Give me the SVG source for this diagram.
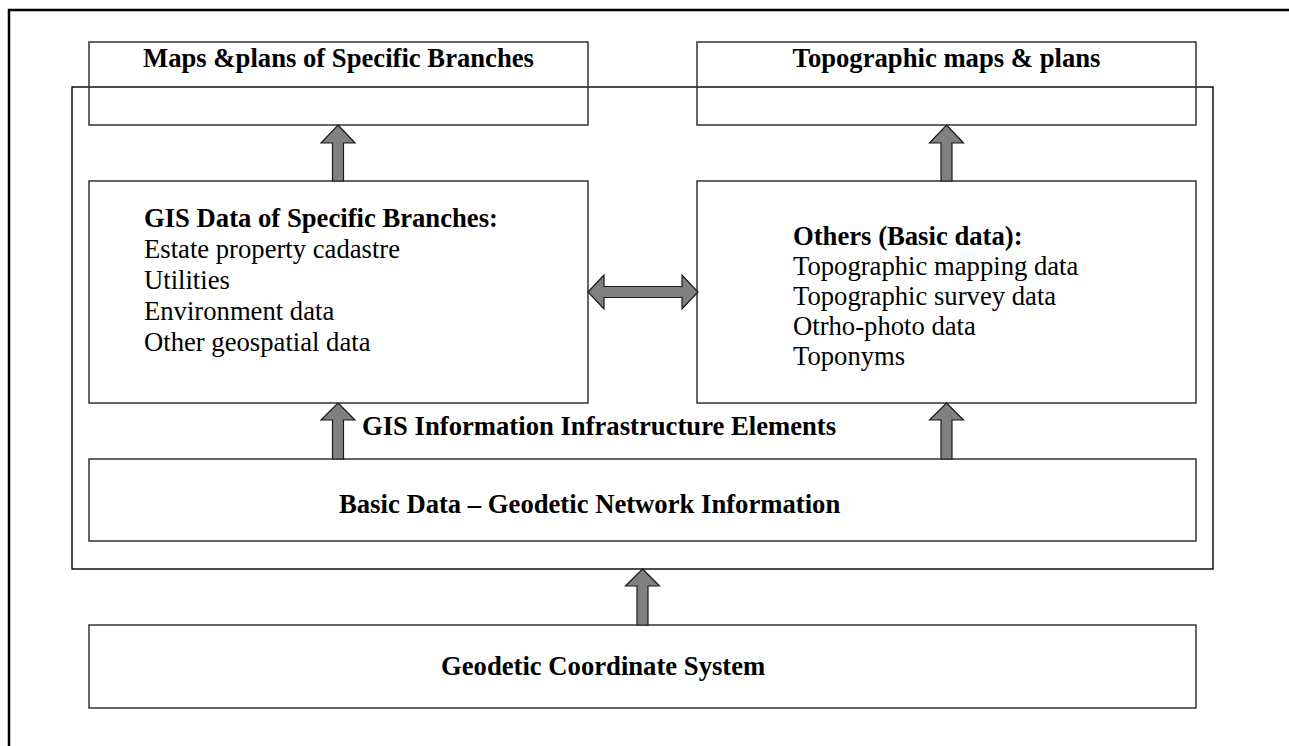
<svg xmlns="http://www.w3.org/2000/svg" width="1289" height="746" viewBox="0 0 1289 746">
<style>
.box{fill:#fff;stroke:#333;stroke-width:1.5}
.frame{fill:none;stroke:#000;stroke-width:2.5}
.cont{fill:none;stroke:#111;stroke-width:1.5}
.arr{fill:#808080;stroke:#1a1a1a;stroke-width:1.2;stroke-linejoin:miter}
.b{font-family:"Liberation Serif","Times New Roman",serif;font-size:26.67px;font-weight:bold;fill:#000}
.r{font-family:"Liberation Serif","Times New Roman",serif;font-size:26.67px;fill:#000}
</style>
<rect x="0" y="0" width="1289" height="746" fill="#fff"/>
<rect class="frame" x="9" y="10" width="1300" height="800"/>
<g id="container">
<rect class="cont" x="72" y="87" width="1141" height="482"/>
<text class="b" x="362" y="435">GIS Information Infrastructure Elements</text>
</g>
<g id="maps-specific">
<rect class="box" x="89" y="42" width="499" height="83" fill-opacity="0"/>
<text class="b" x="338.5" y="67" text-anchor="middle">Maps &amp;plans of Specific Branches</text>
</g>
<g id="topographic-maps">
<rect class="box" x="697" y="42" width="499" height="83" fill-opacity="0"/>
<text class="b" x="946.5" y="67" text-anchor="middle">Topographic maps &amp; plans</text>
</g>
<g id="gis-data">
<rect class="box" x="89" y="181" width="499" height="222"/>
<text class="b" x="144" y="227">GIS Data of Specific Branches:</text>
<text class="r" x="144" y="258">Estate property cadastre</text>
<text class="r" x="144" y="289">Utilities</text>
<text class="r" x="144" y="320">Environment data</text>
<text class="r" x="144" y="351">Other geospatial data</text>
</g>
<g id="others">
<rect class="box" x="697" y="181" width="499" height="222"/>
<text class="b" x="793" y="245">Others (Basic data):</text>
<text class="r" x="793" y="275">Topographic mapping data</text>
<text class="r" x="793" y="305">Topographic survey data</text>
<text class="r" x="793" y="335">Otrho-photo data</text>
<text class="r" x="793" y="365">Toponyms</text>
</g>
<g id="basic-data">
<rect class="box" x="89" y="459" width="1107" height="82"/>
<text class="b" x="339" y="513">Basic Data – Geodetic Network Information</text>
</g>
<g id="geodetic">
<rect class="box" x="89" y="625" width="1107" height="83"/>
<text class="b" x="441" y="675">Geodetic Coordinate System</text>
</g>
<g id="connectors">
<polygon class="arr" points="338,125 355,143 343.5,143 343.5,181 332.5,181 332.5,143 321,143"/>
<polygon class="arr" points="946.5,125 963.5,143 952,143 952,181 941,181 941,143 929.5,143"/>
<polygon class="arr" points="338,403 355,420 343.5,420 343.5,459 332.5,459 332.5,420 321,420"/>
<polygon class="arr" points="946.5,403 963.5,420 952,420 952,459 941,459 941,420 929.5,420"/>
<polygon class="arr" points="642.5,569 659.5,586 648,586 648,625 637,625 637,586 625.5,586"/>
<polygon class="arr" points="588,292 604,275 604,286.5 682,286.5 682,275 698,292 682,309 682,297.5 604,297.5 604,309"/>
</g>
</svg>
